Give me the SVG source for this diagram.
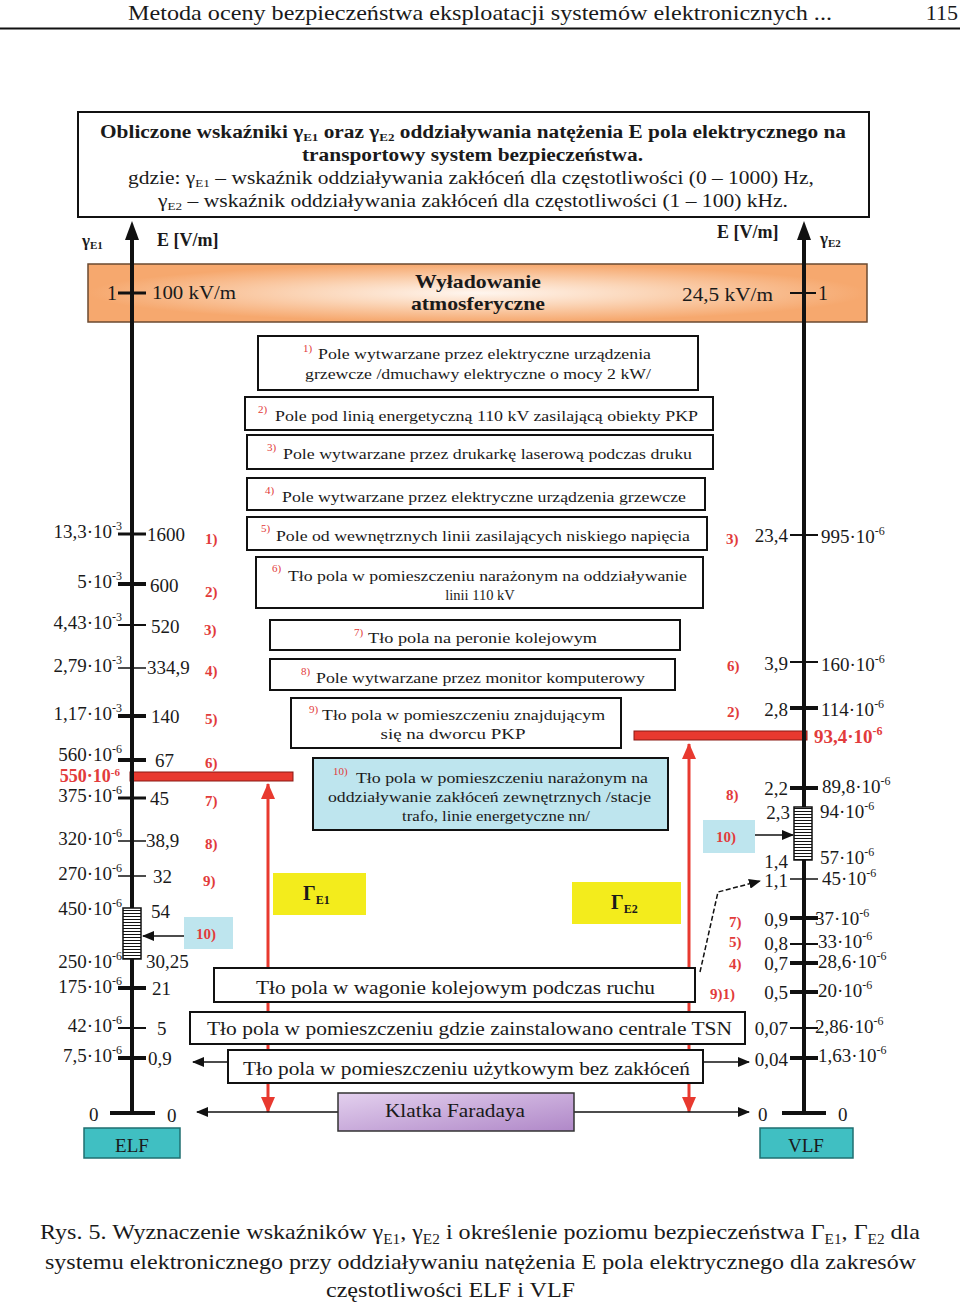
<svg xmlns="http://www.w3.org/2000/svg" width="960" height="1302" viewBox="0 0 960 1302">
<defs>
<style>
text{font-family:"Liberation Serif","Times New Roman",serif;fill:#1a1a1a}
.bx{fill:#fff;stroke:#111;stroke-width:2}
.lbl{font-size:19px}
.sm{font-size:12px}
.rn,.rn text{font-size:15px;font-weight:bold;fill:#E23B3B}
.sp{font-size:11px;fill:#E23B3B}
.bt{font-size:14.5px}
.big{font-size:19px}
.tk{stroke:#111}
.ax{stroke:#111;stroke-width:4}
.red{stroke:#E8392F;stroke-width:3;fill:none}
.blk{stroke:#111;stroke-width:1.5;fill:none}
.hl,.hl tspan{fill:#E23B3B;font-weight:bold}
</style>
<radialGradient id="og" cx="50%" cy="50%" r="50%">
<stop offset="0" stop-color="#FFF6EF"/>
<stop offset="0.45" stop-color="#FBD5B7"/>
<stop offset="1" stop-color="#F6A86E"/>
</radialGradient>
<linearGradient id="pg" x1="0" y1="0" x2="1" y2="1">
<stop offset="0" stop-color="#E3D0EE"/>
<stop offset="1" stop-color="#B088C8"/>
</linearGradient>
<pattern id="hatch" width="6" height="3" patternUnits="userSpaceOnUse">
<rect width="6" height="3" fill="#fff"/>
<line x1="0" y1="1.5" x2="6" y2="1.5" stroke="#111" stroke-width="1"/>
</pattern>
<marker id="ab" markerWidth="12" markerHeight="10" refX="11" refY="5" orient="auto" markerUnits="userSpaceOnUse">
<path d="M0,0 L12,5 L0,10 Z" fill="#111"/>
</marker>
<marker id="ar" markerWidth="16" markerHeight="14" refX="15" refY="7" orient="auto" markerUnits="userSpaceOnUse">
<path d="M0,0 L16,7 L0,14 Z" fill="#E8392F"/>
</marker>
</defs>

<!-- page header -->
<g id="header">
<text x="128" y="20" font-size="22" textLength="704" lengthAdjust="spacingAndGlyphs">Metoda oceny bezpieczeństwa eksploatacji systemów elektronicznych ...</text>
<text x="958" y="20" font-size="22" text-anchor="end">115</text>
<line x1="0" y1="28.5" x2="960" y2="28.5" stroke="#111" stroke-width="2"/>
</g>

<!-- title box -->
<g id="title-box">
<rect x="78" y="112" width="791" height="105" class="bx"/>
<text x="100" y="138" font-size="18" font-weight="bold" textLength="746" lengthAdjust="spacingAndGlyphs">Obliczone wskaźniki γ<tspan font-size="11" dy="3">E1</tspan><tspan dy="-3"> oraz γ</tspan><tspan font-size="11" dy="3">E2</tspan><tspan dy="-3"> oddziaływania natężenia E pola elektrycznego na</tspan></text>
<text x="302" y="161" font-size="18" font-weight="bold" textLength="341" lengthAdjust="spacingAndGlyphs">transportowy system bezpieczeństwa.</text>
<text x="128" y="184" font-size="18" textLength="686" lengthAdjust="spacingAndGlyphs">gdzie: γ<tspan font-size="11" dy="3">E1</tspan><tspan dy="-3"> – wskaźnik oddziaływania zakłóceń dla częstotliwości (0 – 1000) Hz,</tspan></text>
<text x="158" y="207" font-size="18" textLength="630" lengthAdjust="spacingAndGlyphs">γ<tspan font-size="11" dy="3">E2</tspan><tspan dy="-3"> – wskaźnik oddziaływania zakłóceń dla częstotliwości (1 – 100) kHz.</tspan></text>
</g>

<!-- orange band -->
<g id="discharge">
<rect x="88" y="264" width="779" height="58" fill="url(#og)" stroke="#6b4a30" stroke-width="1.5"/>
<text x="478" y="288" font-size="19" font-weight="bold" text-anchor="middle" textLength="126" lengthAdjust="spacingAndGlyphs">Wyładowanie</text>
<text x="478" y="310" font-size="19" font-weight="bold" text-anchor="middle" textLength="134" lengthAdjust="spacingAndGlyphs">atmosferyczne</text>
<text x="152" y="299" class="lbl" textLength="84" lengthAdjust="spacingAndGlyphs">100 kV/m</text>
<text x="682" y="301" class="lbl" textLength="91" lengthAdjust="spacingAndGlyphs">24,5 kV/m</text>
<text x="107" y="300" font-size="20">1</text>
<text x="818" y="300" font-size="20">1</text>
<line x1="118" y1="293" x2="146" y2="293" class="tk" stroke-width="3"/>
<line x1="790" y1="293" x2="816" y2="293" class="tk" stroke-width="2"/>
</g>

<!-- connectors (drawn under the boxes) -->
<g id="connectors">
<rect x="130" y="772" width="163" height="9" fill="#E8392F" stroke="#8a1a14" stroke-width="1"/>
<rect x="634" y="731" width="173" height="9" fill="#E8392F" stroke="#8a1a14" stroke-width="1"/>
<line x1="268" y1="1000" x2="268" y2="784" class="red" marker-end="url(#ar)"/>
<line x1="268" y1="1000" x2="268" y2="1112" class="red" marker-end="url(#ar)"/>
<line x1="689" y1="1000" x2="689" y2="744" class="red" marker-end="url(#ar)"/>
<line x1="689" y1="1000" x2="689" y2="1112" class="red" marker-end="url(#ar)"/>
<line x1="184" y1="936" x2="143" y2="936" class="blk" marker-end="url(#ab)"/>
<line x1="755" y1="835" x2="793" y2="835" class="blk" marker-end="url(#ab)"/>
<line x1="228" y1="1062" x2="193" y2="1062" class="blk" marker-end="url(#ab)"/>
<line x1="703" y1="1062" x2="749" y2="1062" class="blk" marker-end="url(#ab)"/>
<line x1="338" y1="1112" x2="197" y2="1112" class="blk" marker-end="url(#ab)"/>
<line x1="574" y1="1112" x2="749" y2="1112" class="blk" marker-end="url(#ab)"/>
<path d="M700,972 L718,892 L760,881" class="blk" stroke-dasharray="5,2.5" marker-end="url(#ab)"/>
</g>

<!-- axes -->
<g id="axis-left">
<line x1="132" y1="238" x2="132" y2="1114" class="ax"/>
<path d="M132,221 L139,240 L125,240 Z" fill="#111"/>
<line x1="110" y1="1113" x2="155" y2="1113" class="ax"/>
<text x="82" y="246" font-size="17" font-weight="bold">γ<tspan font-size="11" dy="3">E1</tspan></text>
<text x="157" y="246" font-size="18" font-weight="bold">E [V/m]</text>
<text x="89" y="1121" class="lbl">0</text>
<text x="167" y="1122" class="lbl">0</text>
<rect x="84" y="1128" width="96" height="30" fill="#40BFC2" stroke="#1f6f70" stroke-width="1.5"/>
<text x="132" y="1152" class="lbl" text-anchor="middle">ELF</text>
</g>
<g id="axis-right">
<line x1="804" y1="238" x2="804" y2="1114" class="ax"/>
<path d="M804,221 L811,240 L797,240 Z" fill="#111"/>
<line x1="782" y1="1113" x2="826" y2="1113" class="ax"/>
<text x="717" y="238" font-size="18" font-weight="bold">E [V/m]</text>
<text x="820" y="244" font-size="17" font-weight="bold">γ<tspan font-size="11" dy="3">E2</tspan></text>
<text x="758" y="1121" class="lbl">0</text>
<text x="838" y="1121" class="lbl">0</text>
<rect x="760" y="1128" width="93" height="30" fill="#40BFC2" stroke="#1f6f70" stroke-width="1.5"/>
<text x="806" y="1152" class="lbl" text-anchor="middle">VLF</text>
</g>

<!-- left scale ticks -->
<g id="left-scale">
<g class="tk">
<line x1="118" y1="534" x2="146" y2="534" stroke-width="3"/>
<line x1="118" y1="584" x2="146" y2="584" stroke-width="4"/>
<line x1="118" y1="625" x2="146" y2="625" stroke-width="2"/>
<line x1="118" y1="668" x2="146" y2="668" stroke-width="1.5"/>
<line x1="118" y1="716" x2="146" y2="716" stroke-width="4"/>
<line x1="118" y1="760" x2="146" y2="760" stroke-width="4"/>
<line x1="118" y1="798" x2="146" y2="798" stroke-width="3"/>
<line x1="118" y1="841" x2="146" y2="841" stroke-width="1.5"/>
<line x1="118" y1="876" x2="146" y2="876" stroke-width="1.5"/>
<line x1="118" y1="988" x2="146" y2="988" stroke-width="4"/>
<line x1="118" y1="1028" x2="146" y2="1028" stroke-width="2"/>
<line x1="118" y1="1058" x2="146" y2="1058" stroke-width="4"/>
</g>
<rect x="123" y="908" width="18" height="51" fill="url(#hatch)" stroke="#111" stroke-width="1.5"/>
<g class="lbl" text-anchor="end">
<text x="122" y="538">13,3·10<tspan class="sm" dy="-8">-3</tspan></text>
<text x="122" y="588">5·10<tspan class="sm" dy="-8">-3</tspan></text>
<text x="122" y="629">4,43·10<tspan class="sm" dy="-8">-3</tspan></text>
<text x="122" y="672">2,79·10<tspan class="sm" dy="-8">-3</tspan></text>
<text x="122" y="720">1,17·10<tspan class="sm" dy="-8">-3</tspan></text>
<text x="122" y="761">560·10<tspan class="sm" dy="-8">-6</tspan></text>
<text x="120" y="782" class="hl" font-size="18">550·10<tspan font-size="11" dy="-6">-6</tspan></text>
<text x="122" y="802">375·10<tspan class="sm" dy="-8">-6</tspan></text>
<text x="122" y="845">320·10<tspan class="sm" dy="-8">-6</tspan></text>
<text x="122" y="880">270·10<tspan class="sm" dy="-8">-6</tspan></text>
<text x="122" y="915">450·10<tspan class="sm" dy="-8">-6</tspan></text>
<text x="122" y="968">250·10<tspan class="sm" dy="-8">-6</tspan></text>
<text x="122" y="993">175·10<tspan class="sm" dy="-8">-6</tspan></text>
<text x="122" y="1032">42·10<tspan class="sm" dy="-8">-6</tspan></text>
<text x="122" y="1062">7,5·10<tspan class="sm" dy="-8">-6</tspan></text>
</g>
<g class="lbl">
<text x="147" y="541">1600</text>
<text x="150" y="592">600</text>
<text x="151" y="633">520</text>
<text x="147" y="674">334,9</text>
<text x="151" y="723">140</text>
<text x="155" y="767">67</text>
<text x="150" y="805">45</text>
<text x="146" y="847">38,9</text>
<text x="153" y="883">32</text>
<text x="151" y="918">54</text>
<text x="146" y="968">30,25</text>
<text x="152" y="995">21</text>
<text x="157" y="1035">5</text>
<text x="148" y="1065">0,9</text>
</g>
<g class="rn">
<text x="205" y="544">1)</text>
<text x="205" y="597">2)</text>
<text x="204" y="635">3)</text>
<text x="205" y="676">4)</text>
<text x="205" y="724">5)</text>
<text x="205" y="768">6)</text>
<text x="205" y="806">7)</text>
<text x="205" y="849">8)</text>
<text x="203" y="886">9)</text>
</g>
<rect x="184" y="917" width="49" height="32" fill="#BEE5EE"/>
<text x="196" y="939" class="rn">10)</text>
</g>

<!-- right scale -->
<g id="right-scale">
<g class="tk">
<line x1="790" y1="535" x2="818" y2="535" stroke-width="2"/>
<line x1="790" y1="662" x2="818" y2="662" stroke-width="2"/>
<line x1="790" y1="708" x2="818" y2="708" stroke-width="4"/>
<line x1="790" y1="788" x2="818" y2="788" stroke-width="4"/>
<line x1="790" y1="879" x2="818" y2="879" stroke-width="1.5"/>
<line x1="790" y1="918" x2="818" y2="918" stroke-width="4"/>
<line x1="790" y1="944" x2="818" y2="944" stroke-width="2"/>
<line x1="790" y1="963" x2="818" y2="963" stroke-width="4"/>
<line x1="790" y1="992" x2="818" y2="992" stroke-width="4"/>
<line x1="790" y1="1028" x2="818" y2="1028" stroke-width="2"/>
<line x1="790" y1="1058" x2="818" y2="1058" stroke-width="4"/>
</g>
<rect x="794" y="807" width="18" height="53" fill="url(#hatch)" stroke="#111" stroke-width="1.5"/>
<g class="lbl" text-anchor="end">
<text x="788" y="542">23,4</text>
<text x="788" y="670">3,9</text>
<text x="788" y="716">2,8</text>
<text x="788" y="795">2,2</text>
<text x="790" y="819">2,3</text>
<text x="788" y="868">1,4</text>
<text x="788" y="887">1,1</text>
<text x="788" y="926">0,9</text>
<text x="788" y="950">0,8</text>
<text x="788" y="970">0,7</text>
<text x="788" y="999">0,5</text>
<text x="788" y="1035">0,07</text>
<text x="788" y="1066">0,04</text>
</g>
<g class="lbl">
<text x="821" y="543">995·10<tspan class="sm" dy="-8">-6</tspan></text>
<text x="821" y="671">160·10<tspan class="sm" dy="-8">-6</tspan></text>
<text x="821" y="716">114·10<tspan class="sm" dy="-8">-6</tspan></text>
<text x="814" y="743" class="hl">93,4·10<tspan class="sm" dy="-8">-6</tspan></text>
<text x="822" y="793">89,8·10<tspan class="sm" dy="-8">-6</tspan></text>
<text x="820" y="818">94·10<tspan class="sm" dy="-8">-6</tspan></text>
<text x="820" y="864">57·10<tspan class="sm" dy="-8">-6</tspan></text>
<text x="822" y="885">45·10<tspan class="sm" dy="-8">-6</tspan></text>
<text x="815" y="925">37·10<tspan class="sm" dy="-8">-6</tspan></text>
<text x="818" y="948">33·10<tspan class="sm" dy="-8">-6</tspan></text>
<text x="818" y="968">28,6·10<tspan class="sm" dy="-8">-6</tspan></text>
<text x="818" y="997">20·10<tspan class="sm" dy="-8">-6</tspan></text>
<text x="815" y="1033">2,86·10<tspan class="sm" dy="-8">-6</tspan></text>
<text x="818" y="1062">1,63·10<tspan class="sm" dy="-8">-6</tspan></text>
</g>
<g class="rn">
<text x="726" y="544">3)</text>
<text x="727" y="671">6)</text>
<text x="727" y="717">2)</text>
<text x="726" y="800">8)</text>
<text x="729" y="927">7)</text>
<text x="729" y="947">5)</text>
<text x="729" y="969">4)</text>
<text x="710" y="999">9)1)</text>
</g>
<rect x="703" y="820" width="52" height="33" fill="#BEE5EE"/>
<text x="716" y="842" class="rn">10)</text>
</g>

<!-- source boxes -->
<g id="node-1">
<rect x="258" y="336" width="440" height="54" class="bx"/>
<text x="303" y="352" class="sp">1)</text>
<text x="318" y="359" class="bt" textLength="333" lengthAdjust="spacingAndGlyphs">Pole wytwarzane przez elektryczne urządzenia</text>
<text x="305" y="379" class="bt" textLength="346" lengthAdjust="spacingAndGlyphs">grzewcze /dmuchawy elektryczne o mocy 2 kW/</text>
</g>
<g id="node-2">
<rect x="245" y="397" width="468" height="33" class="bx"/>
<text x="258" y="413" class="sp">2)</text>
<text x="275" y="421" class="bt" textLength="423" lengthAdjust="spacingAndGlyphs">Pole pod linią energetyczną 110 kV zasilającą obiekty PKP</text>
</g>
<g id="node-3">
<rect x="247" y="435" width="466" height="34" class="bx"/>
<text x="267" y="451" class="sp">3)</text>
<text x="283" y="459" class="bt" textLength="409" lengthAdjust="spacingAndGlyphs">Pole wytwarzane przez drukarkę laserową podczas druku</text>
</g>
<g id="node-4">
<rect x="247" y="478" width="458" height="32" class="bx"/>
<text x="265" y="494" class="sp">4)</text>
<text x="282" y="502" class="bt" textLength="404" lengthAdjust="spacingAndGlyphs">Pole wytwarzane przez elektryczne urządzenia grzewcze</text>
</g>
<g id="node-5">
<rect x="247" y="517" width="460" height="33" class="bx"/>
<text x="261" y="532" class="sp">5)</text>
<text x="276" y="541" class="bt" textLength="414" lengthAdjust="spacingAndGlyphs">Pole od wewnętrznych linii zasilających niskiego napięcia</text>
</g>
<g id="node-6">
<rect x="256" y="557" width="447" height="51" class="bx"/>
<text x="272" y="572" class="sp">6)</text>
<text x="288" y="581" class="bt" textLength="399" lengthAdjust="spacingAndGlyphs">Tło pola w pomieszczeniu narażonym na oddziaływanie</text>
<text x="480" y="600" class="bt" text-anchor="middle">linii 110 kV</text>
</g>
<g id="node-7">
<rect x="270" y="620" width="410" height="30" class="bx"/>
<text x="354" y="636" class="sp">7)</text>
<text x="368" y="643" class="bt" textLength="229" lengthAdjust="spacingAndGlyphs">Tło pola  na peronie kolejowym</text>
</g>
<g id="node-8">
<rect x="270" y="659" width="405" height="31" class="bx"/>
<text x="301" y="675" class="sp">8)</text>
<text x="316" y="683" class="bt" textLength="329" lengthAdjust="spacingAndGlyphs">Pole wytwarzane przez monitor komputerowy</text>
</g>
<g id="node-9">
<rect x="291" y="698" width="330" height="50" class="bx"/>
<text x="309" y="713" class="sp">9)</text>
<text x="322" y="720" class="bt" textLength="283" lengthAdjust="spacingAndGlyphs">Tło pola w pomieszczeniu znajdującym</text>
<text x="453" y="739" class="bt" text-anchor="middle" textLength="145" lengthAdjust="spacingAndGlyphs">się na dworcu PKP</text>
</g>
<g id="node-10">
<rect x="313" y="758" width="355" height="72" fill="#BEE5EE" stroke="#111" stroke-width="2"/>
<text x="333" y="775" class="sp">10)</text>
<text x="356" y="783" class="bt" textLength="292" lengthAdjust="spacingAndGlyphs">Tło pola w pomieszczeniu narażonym na</text>
<text x="328" y="802" class="bt" textLength="323" lengthAdjust="spacingAndGlyphs">oddziaływanie zakłóceń zewnętrznych /stacje</text>
<text x="402" y="821" class="bt" textLength="188" lengthAdjust="spacingAndGlyphs">trafo, linie energetyczne nn/</text>
</g>

<!-- safety level boxes -->
<g id="gamma-e1">
<rect x="273" y="873" width="93" height="42" fill="#F3EC1C"/>
<text x="303" y="900" font-size="20" font-weight="bold">Γ<tspan font-size="12" dy="4">E1</tspan></text>
</g>
<g id="gamma-e2">
<rect x="572" y="882" width="109" height="42" fill="#F3EC1C"/>
<text x="611" y="909" font-size="20" font-weight="bold">Γ<tspan font-size="12" dy="4">E2</tspan></text>
</g>

<g id="node-wagon">
<rect x="214" y="968" width="481" height="34" class="bx"/>
<text x="256" y="994" class="big" textLength="399" lengthAdjust="spacingAndGlyphs">Tło pola w wagonie kolejowym podczas ruchu</text>
</g>
<g id="node-tsn">
<rect x="190" y="1012" width="555" height="32" class="bx"/>
<text x="207" y="1035" class="big" textLength="525" lengthAdjust="spacingAndGlyphs">Tło pola w pomieszczeniu gdzie zainstalowano centrale TSN</text>
</g>
<g id="node-clean">
<rect x="228" y="1050" width="475" height="33" class="bx"/>
<text x="243" y="1075" class="big" textLength="447" lengthAdjust="spacingAndGlyphs">Tło pola w pomieszczeniu użytkowym bez zakłóceń</text>
</g>
<g id="node-faraday">
<rect x="338" y="1093" width="236" height="38" fill="url(#pg)" stroke="#333" stroke-width="1.5"/>
<text x="455" y="1117" class="big" text-anchor="middle" textLength="140" lengthAdjust="spacingAndGlyphs">Klatka Faradaya</text>
</g>

<!-- caption -->
<g id="caption">
<text x="40" y="1239" font-size="22" textLength="880" lengthAdjust="spacingAndGlyphs">Rys. 5. Wyznaczenie wskaźników γ<tspan font-size="14" dy="5">E1</tspan><tspan dy="-5">, γ</tspan><tspan font-size="14" dy="5">E2</tspan><tspan dy="-5"> i określenie poziomu bezpieczeństwa Γ</tspan><tspan font-size="14" dy="5">E1</tspan><tspan dy="-5">, Γ</tspan><tspan font-size="14" dy="5">E2</tspan><tspan dy="-5"> dla</tspan></text>
<text x="45" y="1269" font-size="22" textLength="871" lengthAdjust="spacingAndGlyphs">systemu elektronicznego przy oddziaływaniu natężenia E pola elektrycznego dla zakresów</text>
<text x="326" y="1297" font-size="22" textLength="249" lengthAdjust="spacingAndGlyphs">częstotliwości ELF i VLF</text>
</g>
</svg>
